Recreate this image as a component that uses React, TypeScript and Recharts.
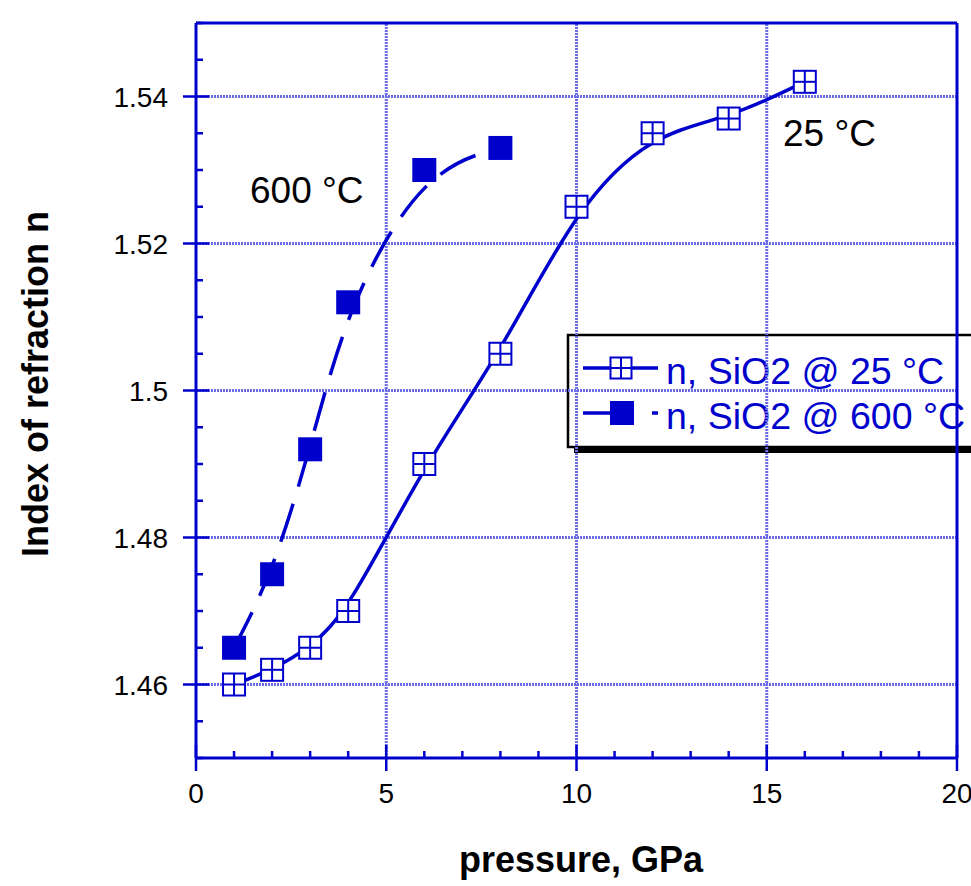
import { LineChart, Line, XAxis, YAxis, ReferenceLine, Customized } from "recharts";

// data
const pressure25 = [1, 2, 3, 4, 6, 8, 10, 12, 14, 16];
const index25 = [1.46, 1.462, 1.465, 1.47, 1.49, 1.505, 1.525, 1.535, 1.537, 1.542];
const pressure600 = [1, 2, 3, 4, 6, 8];
const index600 = [1.465, 1.475, 1.492, 1.512, 1.53, 1.533];

const xTicks = [0, 1, 2, 3, 4, 5, 6, 7, 8, 9, 10, 11, 12, 13, 14, 15, 16, 17, 18, 19, 20];
const xMajor = [0, 5, 10, 15, 20];
const yTicks = [
  1.45, 1.455, 1.46, 1.465, 1.47, 1.475, 1.48, 1.485, 1.49, 1.495, 1.5,
  1.505, 1.51, 1.515, 1.52, 1.525, 1.53, 1.535, 1.54, 1.545, 1.55,
];
const yMajor = [1.46, 1.48, 1.5, 1.52, 1.54];

const data25 = pressure25.map((p, i) => ({ p, n: index25[i] }));
const data600 = pressure600.map((p, i) => ({ p, n: index600[i] }));

const BLUE = "#0000CC";
const GRID = "#6c6ce6";
const FONT = "Liberation Sans, Arial, sans-serif";

const BottomTick = ({ x, y, payload }: any) => {
  const major = xMajor.includes(payload.value);
  return (
    <g>
      <line x1={x} x2={x} y1={major ? y - 13 : y - 7} y2={major ? y + 13 : y} stroke={BLUE} strokeWidth={2.5} />
      {major && (
        <text x={x} y={y + 45} textAnchor="middle" fontSize={28} fontFamily={FONT} fill="#000">
          {payload.value}
        </text>
      )}
    </g>
  );
};

const TopTick = ({ x, y, payload }: any) => {
  const major = xMajor.includes(payload.value);
  return <line x1={x} x2={x} y1={major ? y - 13 : y} y2={major ? y + 13 : y + 7} stroke={BLUE} strokeWidth={2.5} />;
};

const LeftTick = ({ x, y, payload }: any) => {
  const major = yMajor.includes(payload.value);
  return (
    <g>
      <line x1={major ? x - 13 : x} x2={major ? x + 13 : x + 7} y1={y} y2={y} stroke={BLUE} strokeWidth={2.5} />
      {major && (
        <text x={x - 28} y={y + 10} textAnchor="end" fontSize={28} fontFamily={FONT} fill="#000">
          {String(payload.value)}
        </text>
      )}
    </g>
  );
};

const RightTick = ({ x, y, payload }: any) => {
  const major = yMajor.includes(payload.value);
  return <line x1={major ? x - 13 : x - 7} x2={major ? x + 13 : x} y1={y} y2={y} stroke={BLUE} strokeWidth={2.5} />;
};

const OpenSquare = ({ cx, cy, s = 22 }: any) => (
  <g>
    <rect x={cx - s / 2} y={cy - s / 2} width={s} height={s} fill="#fff" stroke={BLUE} strokeWidth={2} />
    <line x1={cx} x2={cx} y1={cy - s / 2} y2={cy + s / 2} stroke={BLUE} strokeWidth={2} />
    <line x1={cx - s / 2} x2={cx + s / 2} y1={cy} y2={cy} stroke={BLUE} strokeWidth={2} />
  </g>
);

const FilledSquare = ({ cx, cy, s = 24 }: any) => (
  <rect x={cx - s / 2} y={cy - s / 2} width={s} height={s} fill={BLUE} />
);

const Annotations = () => (
  <g fontFamily={FONT}>
    <text x={250} y={203} fontSize={37} fill="#000">600 °C</text>
    <text x={783} y={146} fontSize={37} fill="#000">25 °C</text>
    <text
      x={35}
      y={384}
      fontSize={36}
      fontWeight="bold"
      textAnchor="middle"
      dominantBaseline="central"
      transform="rotate(-90 35 384)"
      fill="#000"
    >
      Index of refraction n
    </text>
    <text x={581} y={872} fontSize={36} fontWeight="bold" textAnchor="middle" fill="#000">
      pressure, GPa
    </text>
    {/* legend */}
    <rect x={574} y={341} width={420} height={112} fill="#000" />
    <rect x={568} y={335} width={420} height={112} fill="#fff" stroke="#000" strokeWidth={2.5} />
    <line x1={583} x2={658} y1={368} y2={368} stroke={BLUE} strokeWidth={3.5} />
    <OpenSquare cx={621} cy={368} s={21} />
    <text x={666} y={384} fontSize={37.5} fill={BLUE}>n, SiO2 @ 25 °C</text>
    <line x1={583} x2={610} y1={413} y2={413} stroke={BLUE} strokeWidth={3.5} />
    <FilledSquare cx={622} cy={413} s={24} />
    <line x1={652} x2={658} y1={413} y2={413} stroke={BLUE} strokeWidth={3.5} />
    <text x={666} y={429} fontSize={37.5} fill={BLUE}>n, SiO2 @ 600 °C</text>
  </g>
);

export default function App() {
  return (
    <div style={{ position: "absolute", left: 0, top: 0 }}>
      <LineChart width={971} height={886} margin={{ top: 21, right: 12, bottom: 68, left: 96 }}>
        <XAxis
          xAxisId="b"
          type="number"
          dataKey="p"
          domain={[0, 20]}
          ticks={xTicks}
          interval={0}
          height={60}
          tickSize={0}
          tickMargin={0}
          tick={<BottomTick />}
          axisLine={{ stroke: BLUE, strokeWidth: 3 }}
          tickLine={false}
          allowDataOverflow
        />
        <XAxis
          xAxisId="t"
          orientation="top"
          type="number"
          domain={[0, 20]}
          ticks={xTicks}
          interval={0}
          height={2}
          tickSize={0}
          tickMargin={0}
          tick={<TopTick />}
          axisLine={{ stroke: BLUE, strokeWidth: 3 }}
          tickLine={false}
        />
        <YAxis
          yAxisId="l"
          type="number"
          domain={[1.45, 1.55]}
          ticks={yTicks}
          interval={0}
          width={100}
          tickSize={0}
          tickMargin={0}
          tick={<LeftTick />}
          axisLine={{ stroke: BLUE, strokeWidth: 3 }}
          tickLine={false}
          allowDataOverflow
        />
        <YAxis
          yAxisId="r"
          orientation="right"
          type="number"
          domain={[1.45, 1.55]}
          ticks={yTicks}
          interval={0}
          width={2}
          tickSize={0}
          tickMargin={0}
          tick={<RightTick />}
          axisLine={{ stroke: BLUE, strokeWidth: 3 }}
          tickLine={false}
        />
        {xMajor.slice(1, -1).map((v) => (
          <ReferenceLine key={"x" + v} x={v} xAxisId="b" yAxisId="l" stroke={GRID} strokeWidth={3} strokeDasharray="2 1" />
        ))}
        {yMajor.map((v) => (
          <ReferenceLine key={"y" + v} y={v} xAxisId="b" yAxisId="l" stroke={GRID} strokeWidth={3} strokeDasharray="2 1" />
        ))}
        <Line
          xAxisId="b"
          yAxisId="l"
          data={data25}
          dataKey="n"
          type="basis"
          stroke={BLUE}
          strokeWidth={3.5}
          dot={(props: any) => <OpenSquare key={"a" + props.index} cx={props.cx} cy={props.cy} />}
          isAnimationActive={false}
        />
        <Line
          xAxisId="b"
          yAxisId="l"
          data={data600}
          dataKey="n"
          type="basis"
          stroke={BLUE}
          strokeWidth={3.5}
          strokeDasharray="40 18"
          dot={(props: any) => <FilledSquare key={"b" + props.index} cx={props.cx} cy={props.cy} />}
          isAnimationActive={false}
        />
        <Customized component={<Annotations />} />
      </LineChart>
    </div>
  );
}
